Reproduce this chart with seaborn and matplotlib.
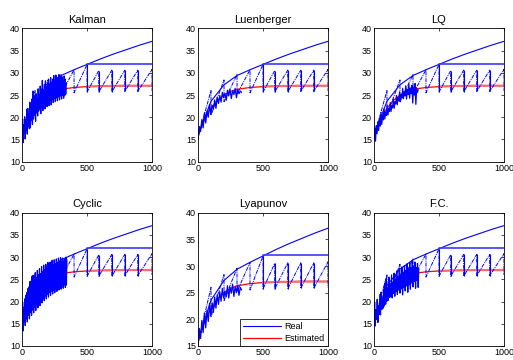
import matplotlib

matplotlib.use("Agg")

import matplotlib.pyplot as plt
import numpy as np
import seaborn as sns

# --- data -------------------------------------------------------------------

TITLES = ["Kalman", "Luenberger", "LQ", "Cyclic", "Lyapunov", "F.C."]
Y_LIMITS = [(10, 40), (10, 40), (10, 40), (10, 40), (15, 40), (10, 40)]

# estimated state (red)
est_x = [0, 25, 50, 75, 100, 150, 200, 250, 300, 350, 400, 450, 500, 600, 700, 800, 1000]
est_y = [15.5, 17.8, 19.5, 20.9, 22.0, 23.8, 25.0, 25.8, 26.3, 26.5, 26.7, 26.8, 26.9, 27.0, 27.05, 27.1, 27.1]

# real state: upper envelope curve
env_x = [0, 100, 200, 300, 400, 500, 600, 700, 800, 900, 1000]
env_y = [16.0, 23.6, 27.3, 29.4, 30.7, 31.9, 33.1, 34.2, 35.2, 36.2, 37.1]

# real state: ramps before 500
ramp_x = [0, 100, 100, 200, 200, 300, 300, 400, 400, 500]
ramp_y = [15.5, 26.0, 20.5, 28.4, 23.5, 29.6, 25.2, 30.7, 25.5, 31.9]

# real state: sawtooth after 500
saw_x = [500, 500, 590, 590, 690, 690, 790, 790, 890, 890, 1000, 1000]
saw_y = [31.9, 25.7, 30.5, 25.7, 30.6, 25.7, 30.6, 25.8, 30.6, 25.8, 30.8, 26.0]

# real state: held level after 500
hold_x = [500, 1000]
hold_y = [32.0, 32.0]

# noisy early part of the real state, one list per method
kalman_noise = [
    15.2, 19.6, 14.3, 18.3, 16.4, 20.1, 15.1, 19.4, 17.0, 21.8,
    16.2, 22.0, 17.9, 20.7, 17.4, 23.4, 17.6, 22.1, 19.3, 24.1,
    18.4, 25.9, 19.6, 23.5, 20.4, 24.9, 19.1, 25.3, 21.0, 24.2,
    20.3, 26.4, 21.4, 25.1, 21.9, 27.0, 20.8, 26.3, 22.3, 28.3,
    21.5, 26.2, 22.8, 27.4, 21.9, 28.2, 23.2, 26.7, 22.4, 27.7,
    23.4, 28.6, 22.6, 27.3, 23.8, 28.9, 22.8, 27.6, 24.0, 28.6,
    23.3, 29.4, 24.2, 27.9, 23.5, 29.5, 24.4, 28.4, 23.7, 29.0,
    24.6, 29.6, 23.9, 28.5, 24.8, 29.2, 24.1, 29.1, 25.0, 28.2,
    24.3, 29.3, 24.9, 28.6, 25.2, 27.8,
]
luenberger_noise = [
    15.0, 17.9, 16.8, 19.5, 17.6, 21.0, 18.7, 21.4, 20.0, 22.9,
    20.6, 22.7, 21.8, 23.9, 22.0, 24.5, 23.1, 24.9, 23.4, 25.6,
    24.4, 25.4, 23.8, 26.1, 24.8, 26.3, 24.2, 26.0, 25.1, 26.5,
    24.4, 26.2, 25.3, 25.9, 25.6,
]
lq_noise = [
    15.0, 17.6, 14.6, 18.1, 16.3, 19.0, 17.0, 19.8, 18.0, 21.1,
    18.4, 20.5, 19.4, 21.9, 19.6, 21.2, 20.4, 22.6, 20.5, 22.0,
    21.3, 23.3, 21.3, 22.6, 22.1, 24.1, 22.0, 23.5, 23.0, 24.9,
    22.8, 24.4, 23.7, 25.7, 23.5, 25.1, 24.3, 26.5, 24.2, 25.8,
    24.8, 27.1, 24.1, 26.3, 25.1, 27.5, 24.3, 26.6, 25.3, 27.2,
    23.2, 26.8, 25.0, 27.6, 22.9, 26.5, 25.6, 26.2,
]
cyclic_noise = [
    14.0, 19.9, 13.4, 18.7, 15.3, 20.6, 14.6, 21.4, 16.1, 22.0,
    15.4, 22.9, 16.9, 23.3, 16.1, 24.5, 17.5, 24.6, 16.9, 25.7,
    18.1, 25.9, 17.5, 24.9, 18.7, 26.5, 18.0, 25.4, 19.3, 27.0,
    18.6, 26.0, 19.8, 27.4, 19.1, 26.3, 20.4, 27.9, 19.7, 26.7,
    20.8, 28.2, 20.2, 27.1, 21.2, 28.4, 20.6, 27.5, 21.6, 28.8,
    21.0, 27.7, 22.0, 28.9, 21.4, 27.9, 22.3, 29.3, 21.7, 28.2,
    22.6, 29.4, 22.0, 28.4, 22.9, 29.6, 22.3, 28.6, 23.2, 29.8,
    22.6, 28.8, 23.4, 29.9, 22.8, 29.0, 23.6, 29.8, 23.0, 29.1,
    23.8, 29.6, 23.2, 30.0, 23.7, 29.4,
]
lyapunov_noise = [
    15.2, 18.3, 16.4, 19.8, 17.5, 21.2, 18.4, 21.7, 19.6, 23.0,
    20.6, 23.1, 21.3, 24.2, 22.1, 24.6, 22.8, 25.2, 23.4, 25.8,
    24.0, 25.3, 24.2, 26.3, 24.0, 26.0, 24.9, 26.6, 24.3, 26.1,
    25.0, 26.4, 24.5, 26.0, 25.5,
]
fc_noise = [
    15.1, 19.9, 14.5, 18.2, 16.0, 20.5, 15.3, 19.0, 17.1, 21.6,
    17.0, 22.1, 18.2, 20.6, 18.5, 22.8, 19.0, 24.2, 19.4, 25.2,
    20.1, 23.2, 20.3, 25.5, 20.9, 24.0, 21.1, 26.0, 20.8, 24.4,
    21.8, 26.4, 21.2, 25.1, 22.3, 26.9, 21.6, 25.7, 22.6, 27.5,
    21.9, 26.2, 22.9, 27.8, 21.5, 26.6, 23.2, 28.1, 22.4, 27.0,
    23.5, 28.5, 22.1, 27.3, 23.8, 28.8, 22.8, 27.6, 24.2, 29.1,
    23.3, 28.0, 24.5, 28.9, 23.0, 27.7, 24.8, 28.6, 23.2, 27.4,
]
NOISE = [kalman_noise, luenberger_noise, lq_noise, cyclic_noise, lyapunov_noise, fc_noise]
NOISE_END = [340, 335, 340, 345, 335, 345]

BLUE = "#0000FF"
RED = "#FF0000"
DASHDOT = (0, (4, 1, 1, 1))

# --- figure ----------------------------------------------------------------

sns.set_style("white")
plt.rcParams["font.family"] = ["Liberation Sans", "DejaVu Sans"]
plt.rcParams["text.color"] = "black"

fig = plt.figure(figsize=(5.13, 3.6), dpi=100)

lefts = [0.043, 0.386, 0.729]
bottoms = [0.551, 0.039]
width, height = 0.2534, 0.370


def draw_line(ax, x, y, color, lw, ls="-"):
    sns.lineplot(x=np.asarray(x, dtype=float), y=np.asarray(y, dtype=float),
                 sort=False, estimator=None, color=color, lw=lw, ls=ls,
                 ax=ax, legend=False)


for i, title in enumerate(TITLES):
    row, col = divmod(i, 3)
    ax = fig.add_axes([lefts[col], bottoms[row], width, height])

    # estimated (red), thin line then a wider pale tail
    draw_line(ax, est_x, est_y, RED, 0.9)
    tail = [k for k, v in enumerate(est_x) if v >= 500]
    draw_line(ax, [est_x[k] for k in tail], [est_y[k] for k in tail], "#FF6A6A", 1.6)

    # real (blue)
    noise = NOISE[i]
    noise_x = np.linspace(0, NOISE_END[i], len(noise))
    draw_line(ax, noise_x, noise, BLUE, 0.9)
    draw_line(ax, ramp_x, ramp_y, BLUE, 0.7, ls=DASHDOT)
    draw_line(ax, env_x, env_y, BLUE, 0.8)
    draw_line(ax, saw_x, saw_y, BLUE, 0.7, ls=DASHDOT)
    ax.vlines(saw_x[::2], [saw_y[k + 1] for k in range(0, len(saw_x), 2)],
              saw_y[::2], color=BLUE, lw=0.8)
    draw_line(ax, hold_x, hold_y, "#3A3AFF", 1.2)

    ax.set_xlim(0, 1000)
    ax.set_ylim(*Y_LIMITS[i])
    ax.set_xticks([0, 500, 1000])
    ax.set_yticks(np.arange(Y_LIMITS[i][0], 41, 5))
    ax.set_xlabel("")
    ax.set_ylabel("")
    ax.set_title(title, fontsize=8, pad=4, color="black")
    ax.tick_params(direction="in", top=True, right=True, length=2.5, width=0.5,
                   labelsize=6.5, pad=1.5, colors="black")
    for spine in ax.spines.values():
        spine.set_color("black")
        spine.set_linewidth(0.6)

    if title == "Lyapunov":
        handles = [plt.Line2D([], [], color=BLUE, lw=0.8),
                   plt.Line2D([], [], color=RED, lw=0.9)]
        leg = ax.legend(handles, ["Real", "Estimated"], loc="lower right",
                        fontsize=6.5, frameon=True, fancybox=False,
                        borderaxespad=0, handlelength=4.2, handletextpad=0.4,
                        borderpad=0.35, labelspacing=0.3)
        leg.get_frame().set_edgecolor("black")
        leg.get_frame().set_linewidth(0.7)
        for text in leg.get_texts():
            text.set_color("black")

fig.savefig("out.png", dpi=100, facecolor="white")
